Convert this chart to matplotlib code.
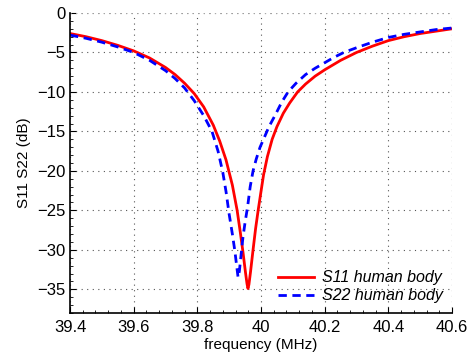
import matplotlib
matplotlib.use('Agg')
import matplotlib.pyplot as plt
from matplotlib.ticker import AutoMinorLocator

plt.rcParams['font.family'] = ['Liberation Sans', 'DejaVu Sans']

# S11, human body
f_s11 = [39.4, 39.45, 39.5, 39.55, 39.6, 39.65, 39.7, 39.73, 39.76, 39.79,
         39.82, 39.85, 39.87, 39.89, 39.91, 39.925, 39.935, 39.944, 39.951,
         39.956, 39.959, 39.962, 39.967, 39.975, 39.983, 39.991, 40.0, 40.008,
         40.02, 40.035, 40.05, 40.07, 40.09, 40.115, 40.14, 40.17, 40.2,
         40.25, 40.3, 40.35, 40.4, 40.45, 40.5, 40.55, 40.6]
s11 = [-2.6, -3.0, -3.5, -4.1, -4.8, -5.7, -6.9, -7.8, -8.9, -10.2,
       -11.9, -14.2, -16.2, -18.6, -21.8, -25.0, -27.8, -30.5, -32.8,
       -34.3, -34.9, -34.4, -32.8, -30.0, -27.3, -25.0, -22.6, -20.5,
       -18.2, -16.0, -14.4, -12.7, -11.4, -10.0, -9.0, -8.0, -7.2,
       -6.0, -5.0, -4.2, -3.5, -3.0, -2.6, -2.3, -2.0]

# S22, human body
f_s22 = [39.4, 39.45, 39.5, 39.55, 39.6, 39.65, 39.7, 39.73, 39.76, 39.79,
         39.82, 39.846, 39.865, 39.88, 39.89, 39.9, 39.91, 39.918, 39.924,
         39.928, 39.932, 39.937, 39.943, 39.95, 39.958, 39.966, 39.975,
         39.985, 39.997, 40.01, 40.025, 40.045, 40.065, 40.085, 40.11, 40.14,
         40.17, 40.2, 40.23, 40.26, 40.3, 40.35, 40.4, 40.45, 40.5, 40.55, 40.6]
s22 = [-2.8, -3.2, -3.7, -4.3, -5.0, -6.0, -7.3, -8.3, -9.5, -11.1,
       -13.0, -15.0, -17.5, -20.2, -22.6, -25.5, -28.0, -30.2, -32.2,
       -33.5, -32.7, -30.8, -28.5, -26.5, -24.5, -22.0, -20.0,
       -18.5, -17.0, -15.8, -14.4, -12.9, -11.3, -10.0, -8.9, -7.8,
       -7.0, -6.3, -5.6, -5.0, -4.4, -3.7, -3.1, -2.7, -2.4, -2.1, -1.9]

fig = plt.figure(figsize=(4.77, 3.56), dpi=100)
ax = fig.add_axes([0.1468, 0.1208, 0.8008, 0.8427])

ax.plot(f_s11, s11, color='#ff0000', lw=2.0, label='S11 human body')
ax.plot(f_s22, s22, color='#0000ff', lw=2.0, ls=(0, (3, 2)), label='S22 human body')

ax.set_xlim(39.4, 40.6)
ax.set_ylim(-38, 0)
ax.set_xticks([39.4, 39.6, 39.8, 40.0, 40.2, 40.4, 40.6])
ax.set_xticklabels(['39.4', '39.6', '39.8', '40', '40.2', '40.4', '40.6'])
ax.set_yticks([0, -5, -10, -15, -20, -25, -30, -35])
ax.set_yticklabels(['0', '\u22125', '\u221210', '\u221215', '\u221220', '\u221225', '\u221230', '\u221235'])
ax.xaxis.set_minor_locator(AutoMinorLocator(5))
ax.yaxis.set_minor_locator(AutoMinorLocator(5))

ax.spines['top'].set_visible(False)
ax.spines['right'].set_visible(False)
ax.spines['left'].set_linewidth(1.2)
ax.spines['bottom'].set_linewidth(1.2)
ax.tick_params(which='both', direction='in', labelsize=12)
ax.tick_params(axis='x', pad=5)
ax.tick_params(axis='y', pad=3.5)
ax.tick_params(which='major', length=4)
ax.tick_params(which='minor', length=2)
ax.grid(True, which='major', ls=(0, (1, 4)), color='#555555', lw=0.8)
# light dotted border in place of top/right spines
ax.axhline(0, color='#aaaaaa', ls=(0, (1, 4)), lw=0.8)
ax.axvline(40.6, color='#aaaaaa', ls=(0, (1, 4)), lw=0.8)

ax.set_xlabel('frequency (MHz)', fontsize=11, labelpad=2)
ax.set_ylabel('S11 S22 (dB)', fontsize=11, labelpad=4)

leg = ax.legend(loc='lower right', frameon=False, prop={'style': 'italic', 'size': 11.5},
                handlelength=2.2, handletextpad=0.5, borderaxespad=0.2, labelspacing=0.2)

fig.savefig('out.png', dpi=100)
